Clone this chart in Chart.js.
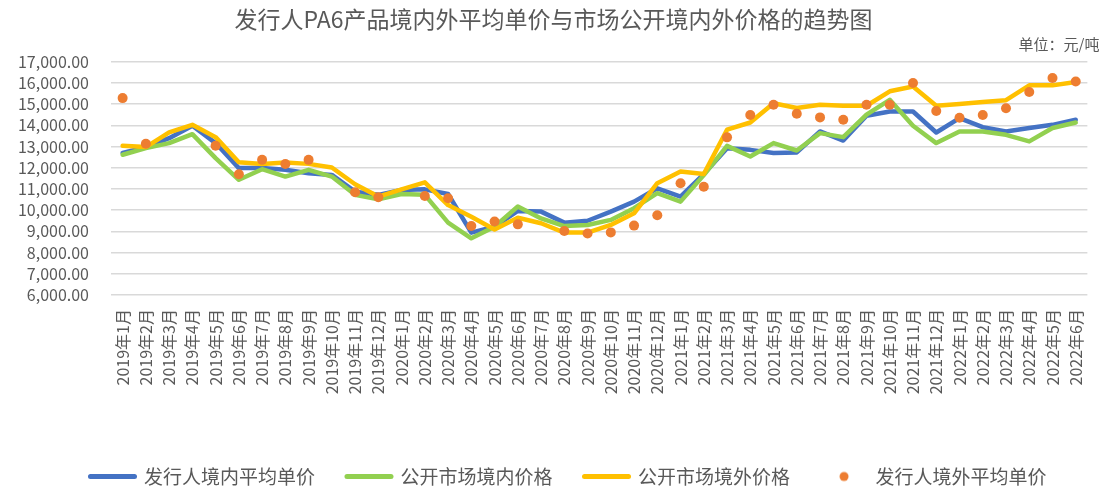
<!DOCTYPE html>
<html>
<head>
<meta charset="utf-8">
<script src="https://cdn.jsdelivr.net/npm/chart.js@4/dist/chart.umd.min.js"></script>
<style>
  html, body { margin: 0; padding: 0; background: #ffffff; }
  #wrap { width: 1109px; height: 491px; }
</style>
</head>
<body>
<div id="wrap"><canvas id="c" width="1109" height="491"></canvas></div>
<script>
const categories = [
  '2019年1月','2019年2月','2019年3月','2019年4月','2019年5月','2019年6月','2019年7月','2019年8月','2019年9月','2019年10月','2019年11月','2019年12月',
  '2020年1月','2020年2月','2020年3月','2020年4月','2020年5月','2020年6月','2020年7月','2020年8月','2020年9月','2020年10月','2020年11月','2020年12月',
  '2021年1月','2021年2月','2021年3月','2021年4月','2021年5月','2021年6月','2021年7月','2021年8月','2021年9月','2021年10月','2021年11月','2021年12月',
  '2022年1月','2022年2月','2022年3月','2022年4月','2022年5月','2022年6月'
];

// 发行人境内平均单价
const issuerDomestic = [
  12690, 12970, 13390, 13980, 13160, 11980, 11980, 11900, 11740, 11660, 10870, 10720,
  10950, 10980, 10760, 8940, 9220, 9960, 9930, 9410, 9500, 9930, 10400, 11030,
  10640, 11700, 12920, 12840, 12690, 12720, 13710, 13280, 14450, 14650, 14650, 13660,
  14340, 13910, 13710, 13870, 14020, 14260
];

// 公开市场境内价格
const marketDomestic = [
  12610, 12920, 13160, 13580, 12450, 11430, 11930, 11580, 11900, 11580, 10720, 10510,
  10760, 10720, 9410, 8670, 9220, 10170, 9610, 9250, 9300, 9540, 10090, 10800,
  10400, 11650, 13030, 12530, 13160, 12810, 13630, 13440, 14500, 15200, 13980, 13160,
  13710, 13710, 13550, 13240, 13870, 14130
];

// 公开市场境外价格
const marketOverseas = [
  13030, 12970, 13660, 14020, 13440, 12260, 12170, 12240, 12180, 12010, 11220, 10640,
  10980, 11310, 10240, 9690, 9090, 9640, 9380, 8940, 8940, 9300, 9850, 11270,
  11820, 11700, 13790, 14130, 15040, 14810, 14970, 14920, 14920, 15600, 15830, 14920,
  15000, 15100, 15180, 15880, 15880, 16040
];

// 发行人境外平均单价
const issuerOverseas = [
  15280, 13130, null, null, 13030, 11690, 12370, 12170, 12370, null, 10840, 10610,
  null, 10670, 10560, 9250, 9460, 9330, null, 9020, 8900, 8950, 9270, 9760,
  11270, 11100, 13430, 14480, 14970, 14540, 14370, 14260, 14970, 14970, 15990, 14670,
  14350, 14480, 14800, 15570, 16230, 16060
];

const seriesNames = ['发行人境内平均单价', '公开市场境内价格', '公开市场境外价格', '发行人境外平均单价'];
const titleText = '发行人PA6产品境内外平均单价与市场公开境内外价格的趋势图';
const unitText = '单位：元/吨';

const COLORS = { blue: '#4472C4', green: '#92D050', yellow: '#FFC000', orange: '#ED7D31' };
const TEXT = '#595959';
const FONT = '"Noto Sans CJK SC", "Noto Sans", sans-serif';

// legend marker for the dot series
const dot = document.createElement('canvas');
dot.width = 12; dot.height = 12;
(function(){
  const g = dot.getContext('2d');
  g.fillStyle = COLORS.orange;
  g.beginPath(); g.arc(6, 6, 4.5, 0, Math.PI * 2); g.fill();
})();

function lineDs(label, data, color, order) {
  return {
    label, data, order,
    borderColor: color, backgroundColor: color,
    borderWidth: 4.5, pointRadius: 0, pointHoverRadius: 0,
    tension: 0, borderJoinStyle: 'round', borderCapStyle: 'round',
    fill: false
  };
}

// nudge the bottom legend a little to the right, as in the original
const legendShift = {
  id: 'legendShift',
  afterLayout(chart) {
    if (chart.legend) { chart.legend.left += 15; chart.legend.right += 15; }
  }
};

new Chart(document.getElementById('c'), {
  type: 'line',
  plugins: [legendShift],
  data: {
    labels: categories,
    datasets: [
      lineDs(seriesNames[0], issuerDomestic, COLORS.blue, 4),
      lineDs(seriesNames[1], marketDomestic, COLORS.green, 3),
      lineDs(seriesNames[2], marketOverseas, COLORS.yellow, 2),
      {
        label: seriesNames[3], data: issuerOverseas, order: 1,
        showLine: false, spanGaps: false,
        pointStyle: 'circle', pointRadius: 5, pointHoverRadius: 5,
        pointBorderWidth: 0, borderColor: COLORS.orange, backgroundColor: COLORS.orange
      }
    ]
  },
  options: {
    responsive: false,
    animation: false,
    devicePixelRatio: 1,
    layout: { padding: { left: 0, right: 2, top: 0, bottom: -5 } },
    plugins: {
      tooltip: { enabled: false },
      title: {
        display: true, text: titleText, color: TEXT,
        font: { family: FONT, size: 23, weight: 'normal', lineHeight: 1.2 },
        padding: { top: 5, bottom: 0 }
      },
      subtitle: {
        display: true, text: unitText + '\u2002', color: TEXT, align: 'end',
        font: { family: FONT, size: 15, weight: 'normal', lineHeight: 1.2 },
        padding: { top: 3, bottom: 8 }
      },
      legend: {
        display: true, position: 'bottom',
        labels: {
          color: TEXT,
          font: { family: FONT, size: 19 },
          usePointStyle: true,
          pointStyleWidth: 44,
          padding: 32,
          sort: (a, b) => a.datasetIndex - b.datasetIndex,
          generateLabels(chart) {
            const items = Chart.defaults.plugins.legend.labels.generateLabels(chart);
            items.forEach(it => {
              const ds = chart.data.datasets[it.datasetIndex];
              if (ds.showLine === false) {
                it.pointStyle = dot;
              } else {
                it.pointStyle = 'line';
                it.lineWidth = 5;
                it.strokeStyle = ds.borderColor;
                it.lineCap = 'round';
              }
            });
            return items;
          }
        }
      }
    },
    scales: {
      x: {
        offset: true,
        grid: { display: false, drawTicks: false },
        border: { display: false },
        ticks: {
          autoSkip: false, maxRotation: 90, minRotation: 90, padding: 14,
          color: TEXT, font: { family: FONT, size: 16 }
        },
        afterFit(scale) { scale.height = 140; }
      },
      y: {
        min: 6000, max: 17000,
        grid: { color: '#D9D9D9', lineWidth: 1.5, drawTicks: false },
        border: { display: false },
        ticks: {
          stepSize: 1000, autoSkip: false, maxTicksLimit: 20,
          padding: 22, color: TEXT,
          font: { family: FONT, size: 16 },
          callback: v => Number(v).toLocaleString('en-US', { minimumFractionDigits: 2, maximumFractionDigits: 2 })
        },
        afterFit(scale) { scale.width = 111; }
      }
    }
  }
});
</script>
</body>
</html>
